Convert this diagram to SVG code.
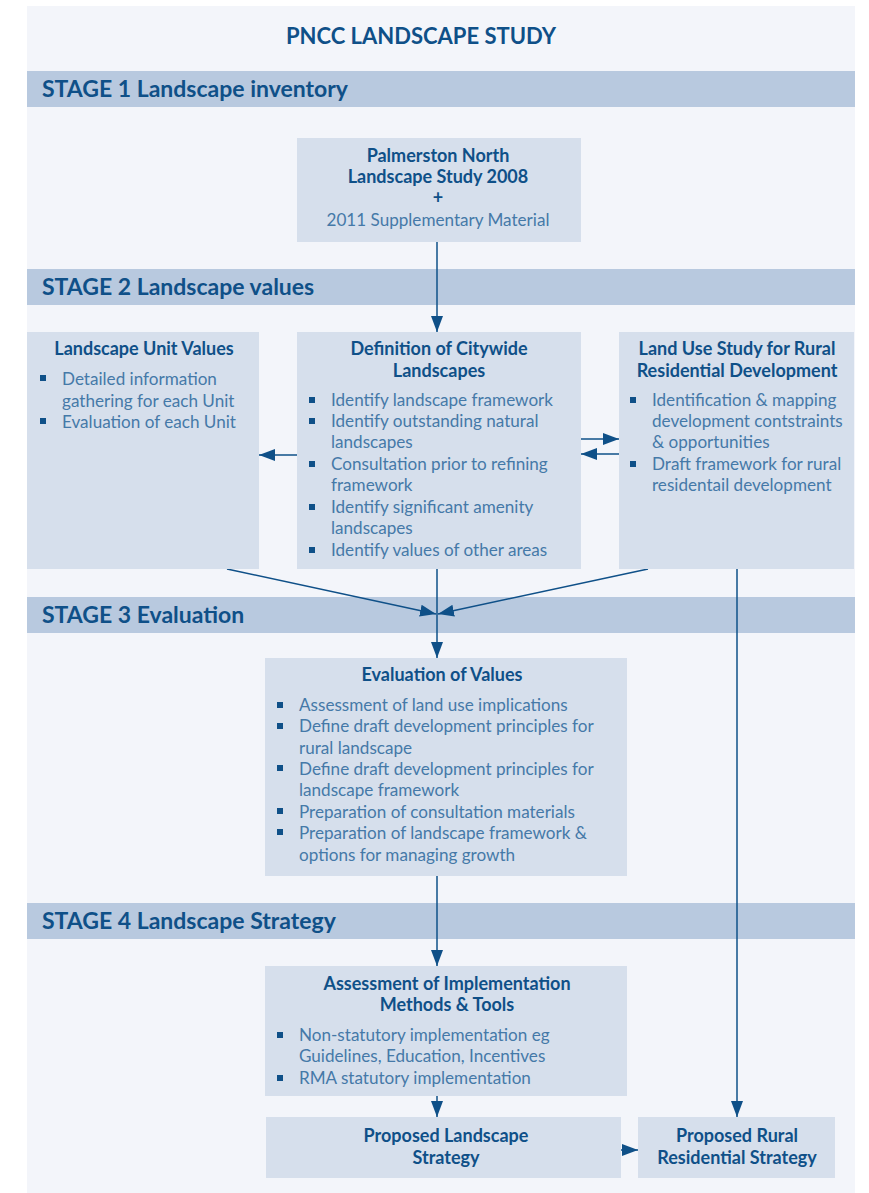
<svg xmlns="http://www.w3.org/2000/svg" width="869" height="1193" viewBox="0 0 869 1193">
<defs>
<style>
.band{fill:#b8c9df}
.box{fill:#d6dfec}
.t{font-family:Lato,"Open Sans","Liberation Sans",sans-serif;fill:#0f5088}
.title{font-size:22px;font-weight:bold}
.stage{font-size:23px;font-weight:bold}
.h{font-size:18px;font-weight:bold;text-anchor:middle}
.b{font-size:17.1px;fill:#4579a8;font-weight:normal}
.bul{fill:#0f5088}
.c{stroke:#0f5088;stroke-width:1.5;fill:none}
</style>
<marker id="ah" viewBox="0 0 16 12" refX="16" refY="6" markerWidth="16" markerHeight="12" markerUnits="userSpaceOnUse" orient="auto">
<path d="M0,0 L16,6 L0,12 z" fill="#0f5088"/>
</marker>
</defs>
<rect x="0" y="0" width="869" height="1193" fill="#ffffff"/>
<rect x="27" y="6" width="828" height="1187" fill="#f3f5fa"/>

<g id="title"><text class="t title" x="421" y="44" text-anchor="middle">PNCC LANDSCAPE STUDY</text></g>

<g id="stage1"><rect class="band" x="27" y="71" width="828" height="36"/><text class="t stage" x="42" y="97">STAGE 1 Landscape inventory</text></g>
<g id="stage2"><rect class="band" x="27" y="269" width="828" height="36"/><text class="t stage" x="42" y="295">STAGE 2 Landscape values</text></g>
<g id="stage3"><rect class="band" x="27" y="597" width="828" height="36"/><text class="t stage" x="42" y="623">STAGE 3 Evaluation</text></g>
<g id="stage4"><rect class="band" x="27" y="903" width="828" height="36"/><text class="t stage" x="42" y="929">STAGE 4 Landscape Strategy</text></g>

<g id="connectors">
<line class="c" x1="437" y1="242" x2="437" y2="332" marker-end="url(#ah)"/>
<line class="c" x1="297" y1="455" x2="259" y2="455" marker-end="url(#ah)"/>
<line class="c" x1="581" y1="439" x2="619" y2="439" marker-end="url(#ah)"/>
<line class="c" x1="619" y1="454" x2="581" y2="454" marker-end="url(#ah)"/>
<line class="c" x1="227" y1="569" x2="436" y2="614" marker-end="url(#ah)"/>
<line class="c" x1="648" y1="569" x2="438" y2="614" marker-end="url(#ah)"/>
<line class="c" x1="437" y1="569" x2="437" y2="658" marker-end="url(#ah)"/>
<line class="c" x1="437" y1="876" x2="437" y2="966" marker-end="url(#ah)"/>
<line class="c" x1="437" y1="1096" x2="437" y2="1117" marker-end="url(#ah)"/>
<line class="c" x1="737" y1="569" x2="737" y2="1117" marker-end="url(#ah)"/>
<line class="c" x1="621" y1="1150" x2="638" y2="1150" marker-end="url(#ah)"/>
</g>

<g id="n-study">
<rect class="box" x="297" y="138" width="284" height="104"/>
<text class="t h" x="438" y="162">Palmerston North</text>
<text class="t h" x="438" y="183">Landscape Study 2008</text>
<text class="t h" x="438" y="204">+</text>
<text class="t b" x="438" y="226" text-anchor="middle">2011 Supplementary Material</text>
</g>

<g id="n-unit">
<rect class="box" x="27" y="332" width="232" height="237"/>
<text class="t h" x="144" y="355">Landscape Unit Values</text>
<rect class="bul" x="40" y="375" width="6" height="6"/>
<rect class="bul" x="40" y="418" width="6" height="6"/>
<text class="t b" x="62" y="385">Detailed information</text>
<text class="t b" x="62" y="407">gathering for each Unit</text>
<text class="t b" x="62" y="428">Evaluation of each Unit</text>
</g>

<g id="n-citywide">
<rect class="box" x="297" y="332" width="284" height="237"/>
<text class="t h" x="439" y="355">Definition of Citywide</text>
<text class="t h" x="439" y="377">Landscapes</text>
<rect class="bul" x="309" y="397" width="6" height="6"/>
<rect class="bul" x="309" y="418" width="6" height="6"/>
<rect class="bul" x="309" y="461" width="6" height="6"/>
<rect class="bul" x="309" y="504" width="6" height="6"/>
<rect class="bul" x="309" y="547" width="6" height="6"/>
<text class="t b" x="331" y="406">Identify landscape framework</text>
<text class="t b" x="331" y="427">Identify outstanding natural</text>
<text class="t b" x="331" y="448">landscapes</text>
<text class="t b" x="331" y="470">Consultation prior to refining</text>
<text class="t b" x="331" y="491">framework</text>
<text class="t b" x="331" y="513">Identify significant amenity</text>
<text class="t b" x="331" y="534">landscapes</text>
<text class="t b" x="331" y="556">Identify values of other areas</text>
</g>

<g id="n-landuse">
<rect class="box" x="619" y="332" width="235" height="237"/>
<text class="t h" x="737" y="355">Land Use Study for Rural</text>
<text class="t h" x="737" y="377">Residential Development</text>
<rect class="bul" x="630" y="397" width="6" height="6"/>
<rect class="bul" x="630" y="461" width="6" height="6"/>
<text class="t b" x="652" y="406">Identification &amp; mapping</text>
<text class="t b" x="652" y="427">development contstraints</text>
<text class="t b" x="652" y="448">&amp; opportunities</text>
<text class="t b" x="652" y="470">Draft framework for rural</text>
<text class="t b" x="652" y="491">residentail development</text>
</g>

<g id="n-eval">
<rect class="box" x="265" y="658" width="362" height="218"/>
<text class="t h" x="442" y="681">Evaluation of Values</text>
<rect class="bul" x="277" y="702" width="6" height="6"/>
<rect class="bul" x="277" y="723" width="6" height="6"/>
<rect class="bul" x="277" y="765" width="6" height="6"/>
<rect class="bul" x="277" y="808" width="6" height="6"/>
<rect class="bul" x="277" y="829" width="6" height="6"/>
<text class="t b" x="299" y="711">Assessment of land use implications</text>
<text class="t b" x="299" y="732">Define draft development principles for</text>
<text class="t b" x="299" y="754">rural landscape</text>
<text class="t b" x="299" y="775">Define draft development principles for</text>
<text class="t b" x="299" y="796">landscape framework</text>
<text class="t b" x="299" y="818">Preparation of consultation materials</text>
<text class="t b" x="299" y="839">Preparation of landscape framework &amp;</text>
<text class="t b" x="299" y="861">options for managing growth</text>
</g>

<g id="n-assess">
<rect class="box" x="265" y="966" width="362" height="130"/>
<text class="t h" x="447" y="990">Assessment of Implementation</text>
<text class="t h" x="447" y="1011">Methods &amp; Tools</text>
<rect class="bul" x="277" y="1032" width="6" height="6"/>
<rect class="bul" x="277" y="1075" width="6" height="6"/>
<text class="t b" x="299" y="1041">Non-statutory implementation eg</text>
<text class="t b" x="299" y="1062">Guidelines, Education, Incentives</text>
<text class="t b" x="299" y="1084">RMA statutory implementation</text>
</g>

<g id="n-plstrategy">
<rect class="box" x="266" y="1117" width="355" height="61"/>
<text class="t h" x="446" y="1142">Proposed Landscape</text>
<text class="t h" x="446" y="1164">Strategy</text>
</g>

<g id="n-rrstrategy">
<rect class="box" x="638" y="1117" width="197" height="61"/>
<text class="t h" x="737" y="1142">Proposed Rural</text>
<text class="t h" x="737" y="1164">Residential Strategy</text>
</g>
</svg>
